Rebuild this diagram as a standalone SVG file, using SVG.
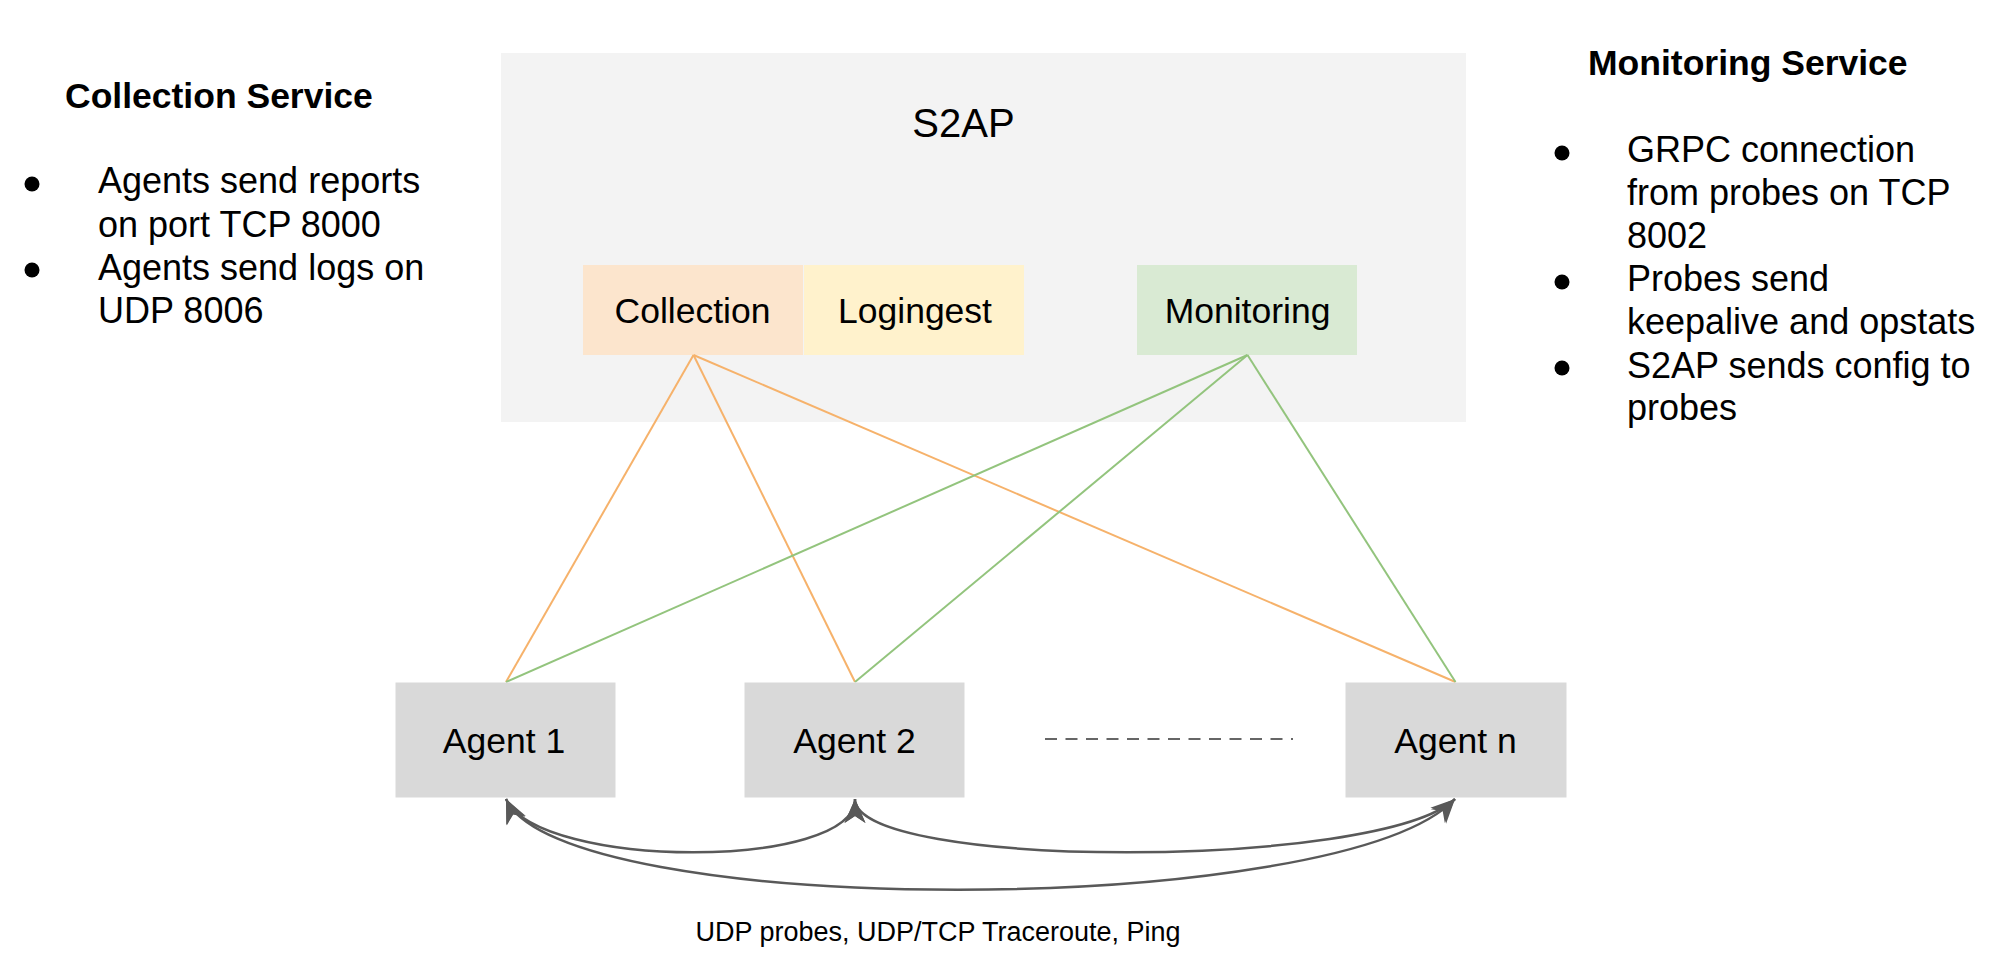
<svg xmlns="http://www.w3.org/2000/svg" width="1999" height="972" viewBox="0 0 1999 972">
<style>
text{font-family:"Liberation Sans",Arial,sans-serif;fill:#000}
.t{font-size:36px}
.n{font-size:35.5px}
.b{font-size:35.5px;font-weight:bold}
.c{text-anchor:middle}
.or{stroke:#f6b26b;stroke-width:2;fill:none}
.gr{stroke:#93c47d;stroke-width:2;fill:none}
.cv{stroke:#595959;stroke-width:2.5;fill:none;marker-start:url(#ah);marker-end:url(#ah)}
.agent{fill:#d9d9d9}
</style>
<defs>
<marker id="ah" markerUnits="userSpaceOnUse" viewBox="-26 -12 28 24" markerWidth="28" markerHeight="24" refX="0" refY="0" orient="auto-start-reverse">
<path d="M0,0 L-24,-10.5 L-17,0 L-24,10.5 Z" fill="#595959"/>
</marker>
</defs>
<rect width="1999" height="972" fill="#fff"/>

<g id="collection-service-notes">
<text class="b" x="65" y="108">Collection Service</text>
<circle cx="32" cy="184" r="7.5"/>
<text class="t" x="98" y="193">Agents send reports</text>
<text class="t" x="98" y="237">on port TCP 8000</text>
<circle cx="32" cy="270" r="7.5"/>
<text class="t" x="98" y="280">Agents send logs on</text>
<text class="t" x="98" y="323">UDP 8006</text>
</g>

<g id="monitoring-service-notes">
<text class="b" x="1588" y="75">Monitoring Service</text>
<circle cx="1562" cy="153" r="7.5"/>
<text class="t" x="1627" y="162">GRPC connection</text>
<text class="t" x="1627" y="205">from probes on TCP</text>
<text class="t" x="1627" y="248">8002</text>
<circle cx="1562" cy="282" r="7.5"/>
<text class="t" x="1627" y="291">Probes send</text>
<text class="t" x="1627" y="334">keepalive and opstats</text>
<circle cx="1562" cy="368" r="7.5"/>
<text class="t" x="1627" y="378">S2AP sends config to</text>
<text class="t" x="1627" y="420">probes</text>
</g>

<g id="s2ap">
<rect x="501" y="53" width="965" height="369" fill="#f3f3f3"/>
<text class="c" x="963.5" y="137" font-size="40">S2AP</text>
</g>
<g id="collection">
<rect x="583" y="265" width="220" height="90" fill="#fce5cd"/>
<text class="n c" x="692.5" y="323">Collection</text>
</g>
<g id="logingest">
<rect x="804" y="265" width="220" height="90" fill="#fff2cc"/>
<text class="n c" x="915" y="323">Logingest</text>
</g>
<g id="monitoring">
<rect x="1137" y="265" width="220" height="90" fill="#d9ead3"/>
<text class="n c" x="1247.5" y="323">Monitoring</text>
</g>

<g id="connectors">
<line class="or" x1="693.5" y1="355" x2="506" y2="682"/>
<line class="or" x1="693.5" y1="355" x2="855" y2="682"/>
<line class="or" x1="693.5" y1="355" x2="1455.5" y2="682"/>
<line class="gr" x1="1247.5" y1="355" x2="506" y2="682"/>
<line class="gr" x1="1247.5" y1="355" x2="855" y2="682"/>
<line class="gr" x1="1247.5" y1="355" x2="1455.5" y2="682"/>
<line x1="1045" y1="739" x2="1293" y2="739" stroke="#666" stroke-width="2" stroke-dasharray="12 8.5"/>
<path class="cv" d="M506,799 C540,870 855,870 855,799"/>
<path class="cv" d="M855,799 C855,870 1380,870 1455,799"/>
<path class="cv" d="M506,799 C560,920 1340,920 1455,799"/>
<text x="938" y="941" font-size="27" text-anchor="middle">UDP probes, UDP/TCP Traceroute, Ping</text>
</g>

<g id="agent-1">
<rect class="agent" x="395.5" y="682.5" width="220" height="115"/>
<text class="n c" x="504" y="753">Agent 1</text>
</g>
<g id="agent-2">
<rect class="agent" x="744.5" y="682.5" width="220" height="115"/>
<text class="n c" x="854.5" y="753">Agent 2</text>
</g>
<g id="agent-n">
<rect class="agent" x="1345.5" y="682.5" width="221" height="115"/>
<text class="n c" x="1455.5" y="753">Agent n</text>
</g>
</svg>
